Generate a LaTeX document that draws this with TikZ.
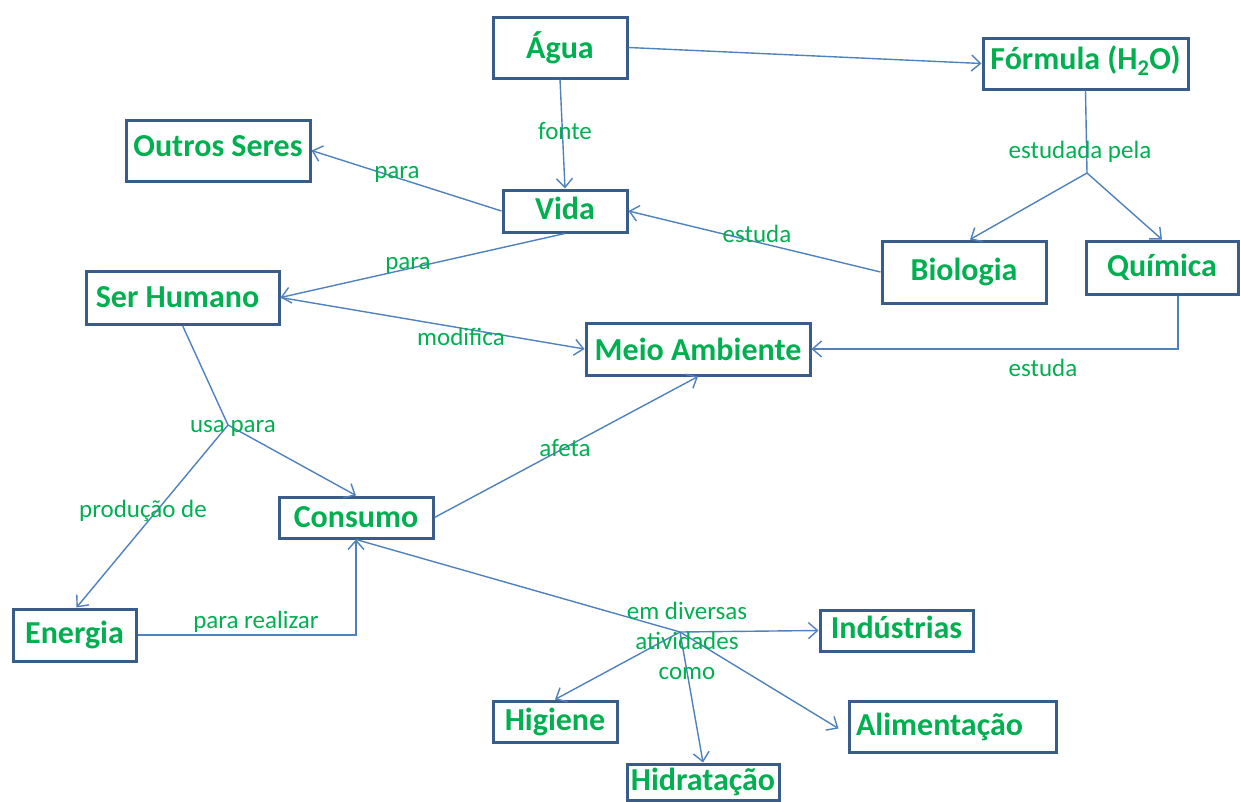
\documentclass[tikz,border=0pt]{standalone}
\usepackage{fontspec}
\setmainfont{Carlito}
\usetikzlibrary{arrows.meta,calc}
\definecolor{boxline}{HTML}{385D8A}
\definecolor{arrline}{HTML}{4F81BD}
\definecolor{txtgreen}{HTML}{00B050}
\begin{document}
\begin{tikzpicture}[x=1pt,y=-1pt,
  box/.style={draw=boxline,line width=3pt,text=txtgreen,inner sep=0pt,
    font=\bfseries\fontsize{32}{36}\selectfont,anchor=center},
  lbl/.style={text=txtgreen,inner sep=0pt,font=\fontsize{25}{30}\selectfont,align=center},
  conn/.style={draw=arrline,line width=1.4pt},
  arr/.style={conn,-{Straight Barb[length=9pt,width=16pt,line width=1.4pt]}}]
\useasboundingbox (0,0) rectangle (1240,801);
\begin{scope}
\clip (0,0) rectangle (1240,801);
% boxes
\node[box,minimum width=134pt,minimum height=61pt] (agua) at (560,47.5) {\raisebox{4pt}{Água}};
\node[box,minimum width=205pt,minimum height=51pt] (formula) at (1085.5,63.5) {\raisebox{12pt}{Fórmula (H\textsubscript{2}O)}};
\node[box,minimum width=184pt,minimum height=61pt] (outros) at (218,150.5) {\raisebox{8pt}{Outros Seres}};
\node[box,minimum width=124pt,minimum height=42pt] (vida) at (565,211) {\raisebox{6pt}{Vida}};
\node[box,minimum width=164pt,minimum height=62pt] (biologia) at (964,272) {Biologia};
\node[box,minimum width=152pt,minimum height=53pt] (quimica) at (1162,267.5) {Química};
\node[box,minimum width=193pt,minimum height=53pt] (ser) at (182.5,297.5) {\hspace*{-10pt}Ser Humano};
\node[box,minimum width=224pt,minimum height=52pt] (meio) at (698,349) {Meio Ambiente};
\node[box,minimum width=154pt,minimum height=41pt] (consumo) at (356,517.5) {Consumo};
\node[box,minimum width=123pt,minimum height=52pt] (energia) at (74.5,635) {Energia};
\node[box,minimum width=153pt,minimum height=41pt] (industrias) at (896.5,630.5) {\raisebox{7pt}{Indústrias}};
\node[box,minimum width=124pt,minimum height=41pt] (higiene) at (555,721.5) {Higiene};
\node[box,minimum width=207pt,minimum height=51pt] (alimentacao) at (952.5,726.5) {\hspace*{-26pt}Alimentação};
\node[box,minimum width=152pt,minimum height=36pt] (hidratacao) at (703,782) {Hidratação};
% junctions
\coordinate (j1) at (1087,173);
\coordinate (j2) at (228,425);
\coordinate (j3) at (680,632);
% connectors
\draw[arr] (agua.east) -- (formula.west);
\draw[arr] (agua.south) -- (vida.north);
\draw[arr] (vida.west) -- (outros.east);
\draw[arr] (vida.south) -- (ser.east);
\draw[arr] (biologia.west) -- (vida.east);
\draw[conn] (formula.south) -- (j1);
\draw[arr] (j1) -- ($(biologia.north)+(6,0)$);
\draw[arr] (j1) -- (quimica.north);
\draw[arr] ($(quimica.south)+(16,0)$) |- (meio.east);
\draw[arr] (ser.east) -- (meio.west);
\draw[conn] (ser.south) -- (j2);
\draw[arr] (j2) -- (consumo.north);
\draw[arr] (j2) -- ($(energia.north)+(2,0)$);
\draw[arr] (consumo.east) -- (meio.south);
\draw[arr] (energia.east) -| (consumo.south);
\draw[conn] (consumo.south) -- (j3);
\draw[arr] (j3) -- (industrias.west);
\draw[arr] (j3) -- (higiene.north);
\draw[arr] (j3) -- (hidratacao.north);
\draw[arr] (j3) -- ($(alimentacao.west)+(-9,2)$);
% labels
\node[lbl] (lfonte) at (565,131) {fonte};
\node[lbl] (lpara1) at (397,174) {para};
\node[lbl] (lpara2) at (408,265) {para};
\node[lbl] (lestuda1) at (757,234) {estuda};
\node[lbl] (lestudada) at (1080,152) {estudada pela};
\node[lbl] (lestuda2) at (1043,368) {estuda};
\node[lbl] (lmodifica) at (461,337) {modifica};
\node[lbl] (lusa) at (233,428) {usa para};
\node[lbl] (lproducao) at (143,511) {produção de};
\node[lbl] (lafeta) at (565,448) {afeta};
\node[lbl] (lrealizar) at (256,622) {para realizar};
\node[lbl] (lem) at (687,641) {em diversas\\atividades\\como};
\end{scope}
\end{tikzpicture}
\end{document}
